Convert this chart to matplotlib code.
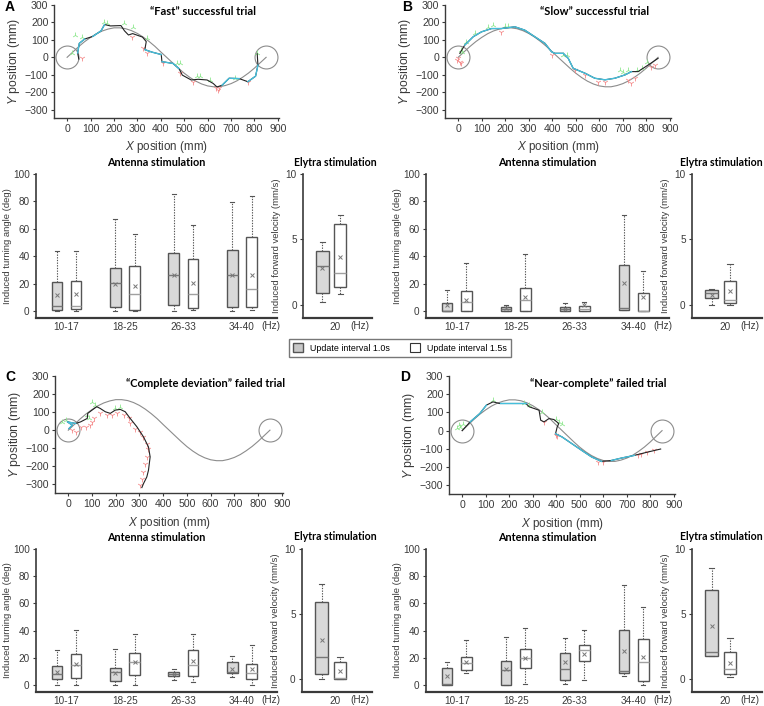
import numpy as np
import matplotlib
matplotlib.use('Agg')
import matplotlib.pyplot as plt
from matplotlib.patches import Patch

plt.rcParams['font.family'] = ['Liberation Sans', 'DejaVu Sans']
plt.rcParams['mathtext.fontset'] = 'custom'
plt.rcParams['mathtext.it'] = 'Liberation Sans:italic'
plt.rcParams['mathtext.rm'] = 'Liberation Sans'

W, H = 764, 706
DARK = '#3a3a3a'

# ---------------- data ----------------
groups = ['10-17', '18-25', '26-33', '34-40']
elytra_freq = ['20']
legend_labels = ['Update interval 1.0s', 'Update interval 1.5s']

# reference path (mm)
ref_x = [0, 25, 50, 75, 100, 125, 150, 175, 200, 225, 250, 275, 300, 325, 350, 375, 400, 425,
         450, 475, 500, 525, 550, 575, 600, 625, 650, 675, 700, 725, 750, 775, 800, 825, 850]
ref_y = [0, 31, 62, 90, 114, 135, 151, 162, 169, 169, 164, 153, 137, 116, 91, 63, 31, 0,
         -31, -62, -91, -116, -137, -153, -164, -169, -169, -162, -151, -135, -114, -90, -62, -31, 0]
start_pt = (0, 0)
goal_pt = (850, 0)

# A: "Fast" successful trial
A_x = [50, 45, 52, 75, 110, 145, 160, 185, 230, 245, 262, 280, 322, 338, 332, 362, 402, 405, 452,
       478, 492, 530, 560, 598, 624, 640, 662, 692, 735, 772, 805, 815, 812]
A_y = [-10, 25, 80, 105, 120, 152, 188, 180, 182, 152, 128, 136, 116, 90, 44, 30, 16, -25, -35,
       -65, -102, -130, -126, -130, -150, -170, -160, -120, -122, -140, -108, -45, 20]
A_cyan = [(1, 3), (4, 6), (14, 16), (17, 19), (26, 28), (29, 31)]
A_gx = [20, 35, 64, 156, 170, 241, 283, 340, 468, 482, 553, 567, 609, 716, 812]
A_gy = [25, 127, 118, 203, 194, 194, 175, 108, -34, -34, -110, -110, -129, -120, 25]
A_rx = [64, 276, 326, 340, 411, 482, 539, 638, 650, 772, 645]
A_ry = [-6, 118, 51, 23, -34, -91, -139, -177, -177, -139, -185]

# B: "Slow" successful trial
B_x = [7, 28, 64, 99, 142, 184, 241, 283, 326, 369, 397, 411, 447, 468, 489, 539, 581, 624, 666,
       709, 737, 765, 808, 850]
B_y = [23, 70, 118, 146, 165, 165, 175, 156, 118, 80, 32, 23, 23, -6, -63, -91, -120, -129, -120,
       -101, -82, -82, -44, -6]
B_cyan = [(1, 20)]
B_gx = [10, 18, 35, 70, 127, 148, 198, 212, 447, 461, 687, 701, 723, 801, 760, 780]
B_gy = [42, 32, 89, 137, 175, 184, 179, 179, 13, 13, -72, -82, -72, -25, -70, -60]
B_rx = [0, 7, -7, 184, 397, 496, 539, 595, 624, 723, 737, 751, 822, 837, 10]
B_ry = [-6, -25, -15, 146, 13, -72, -101, -139, -139, -129, -148, -120, -53, -44, -35]

# C: "Complete deviation" failed trial
C_x = [3, 17, -4, 31, 52, 80, 82, 100, 120, 135, 156, 177, 198, 219, 240, 261, 289, 317, 338, 345,
       338, 331, 317, 310]
C_y = [9, 28, 46, 37, 46, 65, 93, 111, 130, 120, 102, 93, 111, 115, 102, 65, 19, -37, -93, -148,
       -222, -259, -296, -318]
C_cyan = [(0, 3)]
C_gx = [-25, -11, 100, 114, 86, 80, 198, 219]
C_gy = [46, 56, 157, 139, 65, 83, 120, 130]
C_rx = [17, 31, 52, 73, 93, 100, 107, 135, 163, 184, 205, 233, 254, 261, 282, 303, 317, 331, 338,
        331, 324, 317, 310, 303]
C_ry = [0, -9, 19, 19, 28, 46, 65, 93, 83, 83, 93, 83, 65, 37, 9, -9, -37, -74, -102, -148, -185,
        -231, -268, -306]

# D: "Near-complete" failed trial
D_x = [0, 34, 75, 103, 131, 159, 215, 271, 285, 327, 334, 348, 369, 390, 411, 404, 397, 425, 467,
       509, 551, 593, 634, 676, 732, 788, 844]
D_y = [0, 48, 94, 140, 158, 149, 149, 149, 131, 112, 57, 48, 66, 61, 39, 20, -17, -35, -72, -109,
       -145, -169, -164, -151, -136, -118, -101]
D_cyan = [(1, 3), (5, 7), (16, 21), (22, 24)]
D_gx = [-15, -8, 5, -20, 131, 264, 285, 341, 397, 425, 411]
D_gy = [30, 20, 38, 15, 167, 149, 140, 103, 66, 39, 50]
D_rx = [348, 397, 404, 579, 600, 746, 788, 816, 760]
D_ry = [45, -26, -30, -173, -175, -136, -118, -109, -130]

# box statistics: (whisker low, q1, median, q3, whisker high, mean)
# order: 10-17 (1.0s, 1.5s), 18-25 (1.0s, 1.5s), 26-33 ..., 34-40 ...
A_antenna = [(0, 0.5, 4.0, 21.3, 43.8, 12.0), (0, 1.2, 3.5, 22.2, 43.8, 12.2),
             (0, 3.2, 20.5, 31.8, 67.0, 20.0), (0, 0.7, 12.5, 33.0, 56.5, 18.6),
             (0, 4.2, 26.6, 42.3, 85.3, 26.6), (0.5, 2.0, 12.2, 37.7, 62.6, 20.8),
             (0, 2.7, 26.2, 44.3, 79.7, 26.0), (0.5, 3.2, 15.9, 54.3, 83.9, 26.2)]
A_elytra = [(0.2, 0.9, 3.0, 4.1, 4.77, 2.83), (0.8, 1.38, 2.42, 6.17, 6.9, 3.65)]

B_antenna = [(0, 0, 0.3, 6.1, 15.2, 4.6), (0, 0.2, 6.4, 14.9, 35.2, 8.0),
             (0, 0.2, 1.2, 2.7, 4.2, 2.0), (0, 0.2, 8.3, 17.1, 42.0, 10.3),
             (0, 0, 1.7, 3.2, 5.6, 1.8), (0, 0, 1.7, 3.7, 6.6, 4.6),
             (0.5, 0.5, 2.5, 33.5, 70.0, 20.8), (0, 0, 0, 13.0, 29.6, 10.3)]
B_elytra = [(0, 0.54, 0.94, 1.12, 1.22, 0.77), (0.03, 0.18, 0.36, 1.84, 3.1, 1.1)]

C_antenna = [(0.5, 4.6, 8.1, 13.9, 26.2, 10.0), (0.5, 5.0, 14.7, 22.7, 40.6, 15.4),
             (0, 3.0, 9.5, 12.7, 26.6, 9.3), (0.5, 7.3, 17.0, 23.7, 37.4, 16.8),
             (3.7, 6.6, 8.3, 10.0, 11.7, 8.5), (2.7, 6.8, 14.7, 26.2, 37.9, 17.4),
             (6.2, 8.7, 10.0, 17.0, 21.5, 12.1), (0, 4.4, 8.7, 15.8, 29.6, 11.6)]
C_elytra = [(0, 0.4, 1.7, 5.93, 7.27, 3.0), (0, 0.03, 0.05, 1.28, 1.68, 0.59)]

D_antenna = [(0.3, 0.5, 0.7, 12.4, 16.8, 6.8), (9.3, 11.0, 16.6, 20.5, 33.0, 17.1),
             (0, 0.2, 11.0, 18.0, 35.6, 11.7), (0.7, 12.7, 20.0, 26.3, 42.2, 19.7),
             (1.2, 3.7, 11.7, 23.9, 34.9, 16.8), (3.9, 17.6, 25.6, 29.3, 40.2, 23.2),
             (6.8, 9.3, 10.2, 40.7, 73.4, 25.1), (0, 3.2, 17.0, 34.1, 57.6, 21.0)]
D_elytra = [(1.79, 1.79, 2.04, 6.84, 8.52, 4.08), (0.15, 0.36, 0.79, 2.04, 3.16, 1.22)]

titles = ['\u201cFast\u201d successful trial', '\u201cSlow\u201d successful trial',
          '\u201cComplete deviation\u201d failed trial', '\u201cNear-complete\u201d failed trial']


# ---------------- helpers ----------------
def rect(l, t, r, b):
    return [l / W, 1 - b / H, (r - l) / W, (b - t) / H]


def style_axes(ax, lw=1.2):
    for s in ['top', 'right']:
        ax.spines[s].set_visible(False)
    for s in ['left', 'bottom']:
        ax.spines[s].set_color(DARK)
        ax.spines[s].set_linewidth(lw)
    ax.tick_params(colors=DARK, labelsize=7.2, width=0.8)


def draw_traj(ax, px, py, cyan, gx, gy, rx, ry, title):
    ax.plot(ref_x, ref_y, color='#8c8c8c', lw=0.8, zorder=1)
    ax.plot([start_pt[0], goal_pt[0]], [start_pt[1], goal_pt[1]], ls='none', marker='o', ms=16.5,
            mfc='none', mec='#8c8c8c', mew=0.8, zorder=1)
    ax.plot(px, py, color='#222222', lw=0.8, zorder=3)
    for i0, i1 in cyan:
        ax.plot(px[i0:i1 + 1], py[i0:i1 + 1], color='#45bfdc', lw=1.0, zorder=4)
    ax.scatter(gx, gy, marker='2', s=18, color='#8ee88e', linewidths=0.6, zorder=2)
    ax.scatter(rx, ry, marker='1', s=18, color='#f58a8a', linewidths=0.6, zorder=2)
    ax.set_xlim(-56, 905)
    ax.set_ylim(-348, 300)
    ax.set_xticks(np.arange(0, 901, 100))
    ax.set_yticks(np.arange(-300, 301, 100))
    style_axes(ax, 1.0)
    ax.tick_params(labelsize=7.6, length=2, pad=2)
    ax.set_xlabel('$X$ position (mm)', fontsize=8.4, color=DARK)
    ax.set_ylabel('$Y$ position (mm)', fontsize=8.8, color=DARK)
    ax.xaxis.set_label_coords(0.5, -0.185)
    ax.yaxis.set_label_coords(-0.14, 0.5)
    ax.text(0.66, 0.94, title, transform=ax.transAxes, ha='center', va='center',
            fontsize=8.0, fontweight='bold', family='Lato')


def make_stats(rows):
    out = []
    for lo, q1, med, q3, hi, mean in rows:
        out.append({'whislo': lo, 'q1': q1, 'med': med, 'q3': q3, 'whishi': hi,
                    'mean': mean, 'fliers': []})
    return out


def draw_boxes(ax, rows, positions, width, capw, colors):
    stats = make_stats(rows)
    for k in range(2):
        face = colors[k]
        ax.bxp(stats[k::2], positions=positions[k::2], widths=width, patch_artist=True,
               showmeans=True, showfliers=False, manage_ticks=False, capwidths=capw,
               boxprops=dict(facecolor=face, edgecolor='#555555', linewidth=1.0),
               whiskerprops=dict(color='#555555', linestyle=(0, (1.2, 1.2)), linewidth=0.8),
               capprops=dict(color='#555555', linewidth=0.8),
               medianprops=dict(color='#777777' if k == 0 else '#a0a0a0', linewidth=1.0),
               meanprops=dict(marker='x', markersize=3, markeredgecolor='#777777',
                              markeredgewidth=0.7))


def antenna_panel(ax, rows):
    centers = np.arange(1, len(groups) + 1)
    pos = []
    for c in centers:
        pos += [c - 0.165, c + 0.165]
    draw_boxes(ax, rows, pos, 0.18, 0.07, ['#d9d9d9', 'white'])
    ax.set_xlim(0.48, 4.60)
    ax.set_ylim(-5, 100)
    ax.set_yticks(np.arange(0, 101, 20))
    ax.set_xticks(centers)
    ax.set_xticklabels(groups)
    style_axes(ax)
    ax.spines['bottom'].set_linewidth(1.6)
    ax.tick_params(axis='x', length=0, pad=3)
    ax.tick_params(axis='y', length=2.5, pad=2)
    ax.set_ylabel('Induced turning angle (deg)', fontsize=6.8, color=DARK)
    ax.yaxis.set_label_coords(-0.10, 0.5)
    ax.text(0.975, -0.058, '(Hz)', transform=ax.transAxes, ha='center', va='center',
            fontsize=7.2, color=DARK)
    ax.text(0.5, 1.083, 'Antenna stimulation', transform=ax.transAxes, ha='center',
            va='center', fontsize=7.8, fontweight='bold', family='Lato')


def elytra_panel(ax, rows, title_x, title_ha):
    draw_boxes(ax, rows, [0.28, 0.54], 0.18, 0.08, ['#d9d9d9', 'white'])
    ax.set_xlim(0, 1)
    ax.set_ylim(-1, 10)
    ax.set_yticks([0, 5, 10])
    ax.set_xticks([0.47])
    ax.set_xticklabels(elytra_freq)
    style_axes(ax)
    ax.spines['bottom'].set_linewidth(1.6)
    ax.tick_params(axis='x', length=0, pad=3)
    ax.tick_params(axis='y', length=2.5, pad=2)
    ax.set_ylabel('Induced forward velocity (mm/s)', fontsize=6.8, color=DARK)
    ax.yaxis.set_label_coords(-0.32, 0.5)
    ax.text(0.82, -0.058, '(Hz)', transform=ax.transAxes, ha='center', va='center',
            fontsize=7.2, color=DARK)
    pos = ax.get_position()
    fig.text(title_x / W, pos.y1 + 12 / H, 'Elytra stimulation', ha=title_ha, va='center',
             fontsize=7.6, fontweight='bold', family='Lato')


# ---------------- figure ----------------
fig = plt.figure(figsize=(W / 100, H / 100), dpi=100)

traj_rects = [rect(54, 5, 279, 118), rect(445, 5, 671, 118),
              rect(55, 376, 283, 493), rect(449, 376, 675, 494)]
traj_data = [(A_x, A_y, A_cyan, A_gx, A_gy, A_rx, A_ry),
             (B_x, B_y, B_cyan, B_gx, B_gy, B_rx, B_ry),
             (C_x, C_y, C_cyan, C_gx, C_gy, C_rx, C_ry),
             (D_x, D_y, D_cyan, D_gx, D_gy, D_rx, D_ry)]
for r, d, t in zip(traj_rects, traj_data, titles):
    ax = fig.add_axes(r)
    draw_traj(ax, *d, t)

ant_rects = [rect(36, 174, 277, 318), rect(426, 174, 669, 318),
             rect(36, 549, 277, 692), rect(426, 549, 669, 692)]
ely_rects = [rect(303, 174, 372, 318), rect(692, 174, 762, 318),
             rect(302, 549, 372, 692), rect(692, 549, 762, 692)]
ely_title = [(335, 'center'), (763, 'right'), (335, 'center'), (763, 'right')]
for r, rows in zip(ant_rects, [A_antenna, B_antenna, C_antenna, D_antenna]):
    antenna_panel(fig.add_axes(r), rows)
for r, rows, (tx, ha) in zip(ely_rects, [A_elytra, B_elytra, C_elytra, D_elytra], ely_title):
    elytra_panel(fig.add_axes(r), rows, tx, ha)

for letter, (x, y) in zip('ABCD', [(5, 7), (402, 7), (5, 377), (400, 377)]):
    fig.text(x / W, 1 - y / H, letter, ha='left', va='center', fontsize=10, fontweight='bold')

handles = [Patch(facecolor='#c8c8c8', edgecolor='#555555', lw=1.0),
           Patch(facecolor='white', edgecolor='#333333', lw=0.8)]
fig.legend(handles, legend_labels, loc='center', bbox_to_anchor=(400 / W, 1 - 348 / H), ncol=2,
           fontsize=6.4, frameon=True, fancybox=False, edgecolor='#555555', handlelength=1.1,
           handleheight=1.1, columnspacing=2.2, borderpad=0.5, handletextpad=0.8)

fig.savefig('out.png', dpi=100)
